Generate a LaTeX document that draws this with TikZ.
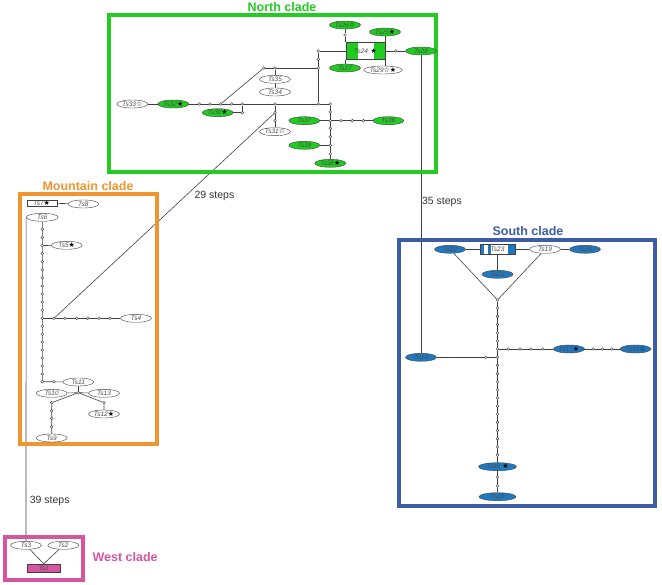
\documentclass[tikz,border=0pt]{standalone}
\usepackage{fontspec}
\setmainfont{Liberation Sans}
\newfontfamily\dvfont{DejaVu Sans}
\usetikzlibrary{shapes.geometric,backgrounds}
\definecolor{ngreen}{HTML}{1FCC1F}
\definecolor{nline}{HTML}{22CC22}
\definecolor{sblue}{HTML}{2079C0}
\definecolor{sline}{HTML}{3D5CA6}
\definecolor{morange}{HTML}{F09530}
\definecolor{wpink}{HTML}{D6559F}
\newcommand\starb{{\dvfont\upshape\fontsize{7}{7}\selectfont\color{black}\char"2605}}
\newcommand\starw{{\dvfont\upshape\fontsize{7}{7}\selectfont\color{black}\char"2606}}
\begin{document}
\begin{tikzpicture}[x=1pt,y=-1pt,
  hap/.style={ellipse,draw=black!75,line width=0.4pt,inner sep=0.5pt,minimum width=31pt,minimum height=8pt,text height=4.5pt,text depth=0pt,font=\fontsize{6.5}{6.5}\selectfont\itshape,text=black!70},
  grn/.style={hap,fill=ngreen},
  blu/.style={hap,fill=sblue},
  wht/.style={hap,fill=white},
  hapbox/.style={rectangle,draw=black!75,line width=0.4pt,inner sep=0pt,text height=4.5pt,text depth=0pt,font=\fontsize{6.5}{6.5}\selectfont\itshape,text=black!70},
  dot/.style={circle,draw=black!80,fill=white,line width=0.4pt,inner sep=0pt,minimum size=2.8pt},
  link/.style={draw=black!75,line width=0.6pt},
  clade/.style={font=\bfseries\fontsize{12.5}{12.5}\selectfont},
  steps/.style={font=\fontsize{10.5}{10.5}\selectfont,text=black!80}]
\useasboundingbox (0,0) rectangle (662,585);

\draw[nline,line width=4pt] (109,15) rectangle (436,172);
\draw[morange,line width=4pt] (20,194.5) rectangle (156.5,444);
\draw[sline,line width=4pt] (399,240.5) rectangle (655,505.5);
\draw[wpink,line width=4pt] (5.3,537) rectangle (83,579.7);
\node[clade,text=nline] (tn) at (282,7) {North clade};
\node[clade,text=morange] (tm) at (88,186) {Mountain clade};
\node[clade,text=sline] (ts) at (528,231) {South clade};
\node[clade,text=wpink,anchor=west] (tw) at (89,557) {West clade};

% north clade
\node[grn] (n26) at (345,25) {Ts26\starw};
\node[grn] (n25) at (385,32) {Ts25\starb};
\node[hapbox,fill=white,minimum width=39pt,minimum height=17pt,
  path picture={\fill[ngreen] (path picture bounding box.north west) rectangle ([xshift=11.5pt]path picture bounding box.south west);
  \fill[ngreen] (path picture bounding box.north east) rectangle ([xshift=-11.5pt]path picture bounding box.south east);}]
  (n24) at (365.5,51) {Ts24\hspace{2.5pt}\starb};
\node[grn] (n28) at (421,51) {Ts28};
\node[grn] (n27) at (345,68) {Ts27};
\node[wht] (n29) at (383,70) {Ts29\starw\starb};
\node[wht] (n35) at (275,79.3) {Ts35};
\node[wht] (n34) at (275,92) {Ts34};
\node[wht] (n33) at (132.3,104) {Ts33\starw};
\node[grn] (n32) at (173.3,104) {Ts32\starb};
\node[grn] (n30) at (217.7,112.7) {Ts30\starb};
\node[wht] (n31) at (275,131.7) {Ts31\starw};
\node[grn] (n37) at (304.3,120.7) {Ts37};
\node[grn] (n36) at (388.3,120.7) {Ts36};
\node[grn] (n39) at (304.3,145.3) {Ts39};
\node[grn] (n38) at (330.3,163.3) {Ts38\starb};
\node[dot] (na) at (345,35) {};
\node[dot] (nb) at (395.7,51) {};
\node[dot] (nc) at (318.3,51) {};
\node[dot] (nd) at (318.3,68) {};
\node[dot] (ne) at (263.7,68) {};
\node[dot] (nf) at (275,68) {};
\node[dot] (ng) at (220.7,104) {};
\node[dot] (nh) at (242.3,104) {};
\node[dot] (ni) at (242.3,112.7) {};
\node[dot] (nj) at (275,104) {};
\node[dot] (nk) at (318.3,104) {};
\node[dot] (nl) at (330.3,104) {};
\node[dot] (nm) at (275,112.7) {};
\node[dot] (no) at (330.3,120.7) {};
\node[dot] (np) at (330.3,145.3) {};
\foreach \x/\y [count=\i] in {318.3/59.3,199.3/104,210/104,231.7/104,275/120.7,330.3/112,330.3/128.3,330.3/136.7,330.3/154,341/120.7,352.3/120.7,363.3/120.7}
  \node[dot] (nx\i) at (\x,\y) {};

% mountain clade
\node[hapbox,fill=white,minimum width=30pt,minimum height=6.5pt] (m7) at (41.7,203) {Ts7\starb};
\node[wht] (m8) at (83.3,204) {Ts8};
\node[wht,minimum width=32pt] (m6) at (42.3,217.3) {Ts6};
\node[wht] (m5) at (66.7,245.3) {Ts5\starb};
\node[wht] (m4) at (136,318.3) {Ts4};
\node[wht] (m11) at (78.3,382) {Ts11};
\node[wht] (m10) at (51.7,393.3) {Ts10};
\node[wht] (m13) at (104,393.3) {Ts13};
\node[wht] (m12) at (104,414) {Ts12\starb};
\node[wht] (m9) at (51.7,438) {Ts9};
\node[dot] (ma) at (42.3,245.5) {};
\node[dot] (mb) at (42.3,318.3) {};
\node[dot] (mc) at (54,318.3) {};
\node[dot] (md) at (42.3,381.7) {};
\node[dot] (me) at (78.3,392.7) {};
\node[dot] (mf) at (51.7,402.7) {};
\node[dot] (mg) at (104,402.7) {};
\foreach \y [count=\i] in {229.3,237.4,253.6,261.7,269.8,277.8,285.9,294,302.1,310.2,326.2,334.2,342.1,350.1,358,366,373.9}
  \node[dot] (mv\i) at (42.3,\y) {};
\foreach \x [count=\i] in {65,76.7,87.7,99,110}
  \node[dot] (mh\i) at (\x,318.3) {};
\node[dot] (mk) at (54,381.7) {};
\foreach \y [count=\i] in {410.7,418.3,426.7}
  \node[dot] (mw\i) at (51.7,\y) {};

% south clade
\node[blu] (s22) at (450,249.3) {Ts22};
\node[hapbox,fill=white,minimum width=35pt,minimum height=10pt,
  path picture={\fill[sblue] (path picture bounding box.north west) rectangle ([xshift=4pt]path picture bounding box.south west);
  \fill[sblue] ([xshift=8pt]path picture bounding box.north west) rectangle ([xshift=11pt]path picture bounding box.south west);
  \fill[sblue] (path picture bounding box.north east) rectangle ([xshift=-7pt]path picture bounding box.south east);}]
  (s23) at (497.5,249.3) {Ts23};
\node[wht] (s19) at (545,249.3) {Ts19};
\node[blu] (s20) at (585,249.3) {Ts20};
\node[blu] (s21) at (497.5,274.3) {Ts21};
\node[blu] (s17) at (569,349) {Ts17\starb};
\node[blu] (s18) at (635.5,349) {Ts18\starw};
\node[blu] (s14) at (421,357.3) {Ts14};
\node[blu,minimum width=38pt] (s16) at (497.5,466.7) {Ts16\hspace{2pt}\starb};
\node[blu,minimum width=37pt] (s15) at (497.5,496.7) {Ts15};
\node[dot] (sa) at (497.5,300) {};
\node[dot] (sb) at (497.5,349) {};
\node[dot] (sc) at (497.5,357.3) {};
\node[dot] (sd) at (485.7,357.3) {};
\foreach \y [count=\i] in {308.3,316.4,324.5,332.7,340.8,365.4,373.6,381.7,389.8,398,406.1,414.2,422.4,430.5,438.6,446.8,454.9,477.3,486}
  \node[dot] (sv\i) at (497.5,\y) {};
\foreach \x [count=\i] in {508.3,520,531,542.7,593.3,602.3,611.7}
  \node[dot] (sh\i) at (\x,349) {};

% west clade
\node[wht] (w3) at (26,545.3) {Ts3};
\node[wht] (w2) at (63.3,545.3) {Ts2};
\node[hapbox,fill=wpink,minimum width=33pt,minimum height=8pt] (w1) at (43.7,568) {Ts1};

\node[steps] (l29) at (214.5,196) {29 steps};
\node[steps] (l35) at (442,202) {35 steps};
\node[steps] (l39) at (49.7,501) {39 steps};

\begin{pgfonlayer}{background}
\draw[link] (n26) -- (na) -- (na |- n24.north);
\draw[link] (n25) -- (n25 |- n24.north);
\draw[link] (n27) -- (n27 |- n24.south);
\draw[link] (n24.south east) -- (n24.south east |- n29.north);
\draw[link] (n24) -- (n28);
\draw[link] (n24) -- (nc) -- (nk);
\draw[link] (ne) -- (nd);
\draw[link] (nf) -- (n35) -- (n34);
\draw[link] (ne) -- (ng);
\draw[link] (n33) -- (nl) -- (n38);
\draw[link] (n30) -- (ni) -- (nh);
\draw[link] (nj) -- (n31);
\draw[link] (n37) -- (n36);
\draw[link] (n39) -- (np);
\draw[link] (n28) -- (s14);
\draw[link] (nm) -- (mc);
\draw[link] (m7) -- (m8);
\draw[link] (m6) -- (md) -- (m11);
\draw[link] (ma) -- (m5);
\draw[link] (mb) -- (m4);
\draw[link] (m11) -- (me);
\draw[link] (m10) -- (me) -- (m13);
\draw[link] (me) -- (mf) -- (m9);
\draw[link] (me) -- (mg) -- (m12);
\draw[link] (m6.west) -- (w3);
\draw[link] (s22) -- (s23) -- (s19) -- (s20);
\draw[link] (s23) -- (s21);
\draw[link] (s22) -- (sa) -- (s19);
\draw[link] (sa) -- (s15);
\draw[link] (sb) -- (s18);
\draw[link] (s14) -- (sc);
\draw[link] (w3) -- (w1.north);
\draw[link] (w2) -- (w1.north);
\end{pgfonlayer}
\end{tikzpicture}
\end{document}
